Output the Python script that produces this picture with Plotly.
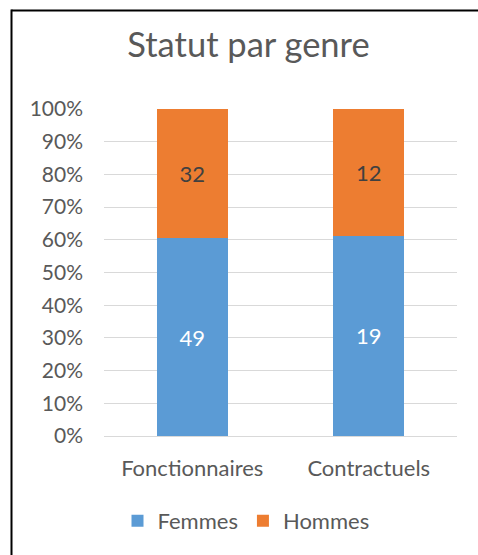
import plotly.graph_objects as go

categories = ["Fonctionnaires", "Contractuels"]
femmes = [49, 19]
hommes = [32, 12]
tick_vals = [0, 10, 20, 30, 40, 50, 60, 70, 80, 90, 100]
tick_text = [f"{v}%" for v in tick_vals]

W, H = 478, 555
L, R, T, B = 104, 21, 109, 119
pw = W - L - R
ph = H - T - B

def px_to_paper_x(px):
    return (px - L) / pw

def px_to_paper_y(py):
    return (H - B - py) / ph

FONT = "Lato"
GRAY = "#595959"
FS = 22

fig = go.Figure()
fig.add_trace(go.Bar(
    name="Femmes", x=categories, y=femmes,
    marker=dict(color="#5B9BD5", line=dict(width=0)),
    text=[str(v) for v in femmes], textposition="inside",
    insidetextanchor="middle",
    textfont=dict(color="#FFFFFF", size=FS, family=FONT),
    hoverinfo="skip",
))
fig.add_trace(go.Bar(
    name="Hommes", x=categories, y=hommes,
    marker=dict(color="#ED7D31", line=dict(width=0)),
    text=[str(v) for v in hommes], textposition="inside",
    insidetextanchor="middle",
    textfont=dict(color="#404040", size=FS, family=FONT),
    hoverinfo="skip",
))

fig.update_layout(
    width=W, height=H,
    margin=dict(l=L, r=R, t=T, b=B),
    barmode="stack", barnorm="percent", bargap=0.6,
    paper_bgcolor="white", plot_bgcolor="white",
    font=dict(family=FONT, color=GRAY, size=FS),
    title=dict(text="Statut par genre", font=dict(size=34.5, color=GRAY, family=FONT),
               x=248.5 / W, xanchor="center", xref="container",
               y=1 - 45 / H, yanchor="middle", yref="container"),
    showlegend=True,
    legend=dict(orientation="h", x=px_to_paper_x(246), xanchor="center",
                y=px_to_paper_y(521), yanchor="middle",
                font=dict(size=FS, color=GRAY, family=FONT),
                itemwidth=30, traceorder="normal"),
)
fig.update_yaxes(range=[0, 100], tickvals=tick_vals, ticktext=tick_text,
                 showgrid=True, gridcolor="#D9D9D9", gridwidth=1,
                 zeroline=False, showline=False, ticks="",
                 ticklabelstandoff=20,
                 tickfont=dict(size=21, color=GRAY, family=FONT))
fig.update_xaxes(showline=True, linecolor="#D9D9D9", linewidth=1, ticks="",
                 ticklabelstandoff=13,
                 tickfont=dict(size=FS, color=GRAY, family=FONT))

# chart-area frame: only left and top edges are visible in the reference
fig.add_shape(type="line", xref="paper", yref="paper",
              x0=px_to_paper_x(11.5), x1=px_to_paper_x(W + 5),
              y0=px_to_paper_y(10.5), y1=px_to_paper_y(10.5),
              line=dict(color="black", width=2), layer="above")
fig.add_shape(type="line", xref="paper", yref="paper",
              x0=px_to_paper_x(11.5), x1=px_to_paper_x(11.5),
              y0=px_to_paper_y(9.5), y1=px_to_paper_y(H + 5),
              line=dict(color="black", width=2), layer="above")

fig.write_html("out.html", config={"displayModeBar": False},
               post_script="document.body.style.margin='0';document.body.style.overflow='hidden';")
